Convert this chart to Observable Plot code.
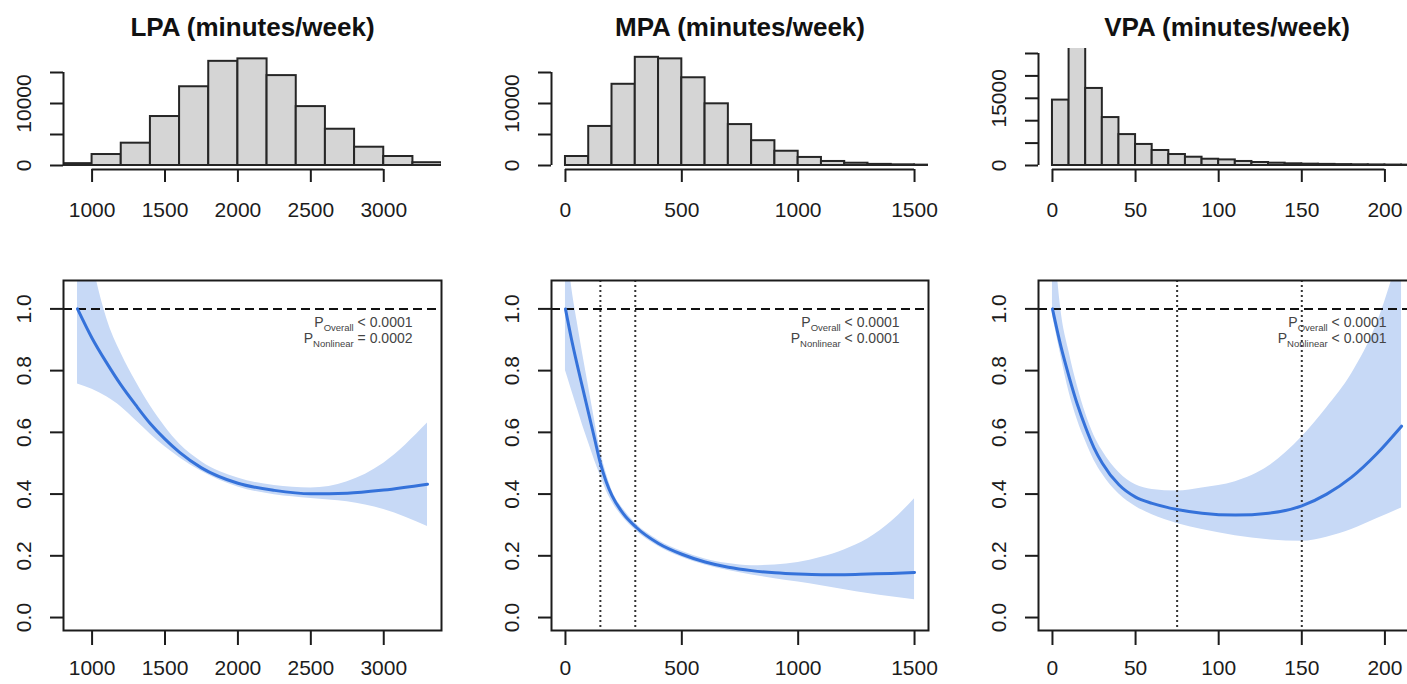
<!DOCTYPE html>
<html><head><meta charset="utf-8">
<script src="https://cdn.jsdelivr.net/npm/d3@7"></script>
<script src="https://cdn.jsdelivr.net/npm/@observablehq/plot@0.6"></script>
<style>
html,body{margin:0;padding:0;background:#fff;overflow:hidden;}
#root{position:relative;width:1407px;height:684px;overflow:hidden;background:#fff;}
#root svg{position:absolute;}
</style></head><body><div id="root"></div>
<script>
// ---------- data ----------
const titles = ["LPA (minutes/week)", "MPA (minutes/week)", "VPA (minutes/week)"];

// histograms (bin breaks and counts)
const lpaBreaks = [800,1000,1200,1400,1600,1800,2000,2200,2400,2600,2800,3000,3200,3400];
const lpaCounts = [300,1770,3600,7900,12700,16800,17200,14500,9500,5850,2950,1450,450];
const mpaBreaks = [0,100,200,300,400,500,600,700,800,900,1000,1100,1200,1300,1400,1500,1600];
const mpaCounts = [1450,6300,13100,17450,17200,14150,9950,6600,4000,2300,1300,650,370,180,110,60];
const vpaBreaks = [0,10,20,30,40,50,60,70,80,90,100,110,120,130,140,150,160,170,180,190,200,210,220];
const vpaCounts = [14600,32000,17200,10700,6900,4700,3350,2450,1850,1400,1250,900,670,520,380,300,250,200,160,130,100,80];

// histogram axis ticks and labels
const lpaCountTicks = [0,5000,10000,15000];
const lpaCountLabels = [0,10000];
const mpaCountTicks = [0,5000,10000,15000];
const mpaCountLabels = [0,10000];
const vpaCountTicks = [0,5000,10000,15000,20000,25000];
const vpaCountLabels = [0,15000];

// x ticks
const lpaXTicks = [1000,1500,2000,2500,3000];
const mpaXTicks = [0,500,1000,1500];
const vpaXTicks = [0,50,100,150,200];
const hrTicks = [0,0.2,0.4,0.6,0.8,1.0];

// spline curves: hazard ratio with 95% CI
const lpaX  = [900,1000,1100,1200,1300,1400,1500,1600,1750,2000,2250,2500,2750,3000,3300];
const lpaHR = [1.0,0.905,0.825,0.752,0.688,0.628,0.578,0.535,0.485,0.435,0.412,0.401,0.403,0.413,0.432];
const lpaLo = [0.757,0.74,0.715,0.682,0.638,0.594,0.553,0.518,0.474,0.423,0.398,0.386,0.375,0.35,0.295];
const lpaHi = [1.45,1.16,0.97,0.855,0.765,0.685,0.618,0.562,0.505,0.452,0.428,0.42,0.44,0.5,0.63];

const mpaX  = [0,25,50,75,100,125,150,175,200,250,300,400,500,600,700,800,900,1000,1100,1200,1300,1400,1500];
const mpaHR = [1.0,0.905,0.82,0.74,0.66,0.58,0.5,0.44,0.395,0.335,0.295,0.24,0.205,0.18,0.163,0.152,0.145,0.141,0.139,0.139,0.141,0.143,0.146];
const mpaLo = [0.8,0.74,0.68,0.62,0.565,0.51,0.46,0.412,0.375,0.322,0.284,0.23,0.195,0.17,0.152,0.138,0.126,0.115,0.103,0.09,0.078,0.067,0.058];
const mpaHi = [1.25,1.08,0.96,0.85,0.745,0.64,0.54,0.468,0.412,0.35,0.306,0.25,0.215,0.19,0.175,0.168,0.17,0.178,0.195,0.22,0.255,0.31,0.385];

const vpaX  = [0,5,10,15,20,25,30,40,50,60,75,90,110,130,150,165,180,195,210];
const vpaHR = [1.0,0.88,0.78,0.69,0.615,0.55,0.5,0.43,0.39,0.37,0.35,0.338,0.332,0.338,0.362,0.4,0.455,0.53,0.62];
const vpaLo = [0.98,0.85,0.73,0.64,0.57,0.51,0.465,0.4,0.36,0.333,0.305,0.285,0.265,0.252,0.247,0.26,0.285,0.32,0.355];
const vpaHi = [1.3,1.0,0.86,0.75,0.66,0.59,0.54,0.47,0.43,0.415,0.41,0.42,0.44,0.49,0.585,0.68,0.79,0.95,1.2];

// reference lines
const mpaRefs = [150,300];
const vpaRefs = [75,150];

// p-values
const pOverall   = ["< 0.0001","< 0.0001","< 0.0001"];
const pNonlinear = ["= 0.0002","< 0.0001","< 0.0001"];

// ---------- layout ----------
const FONT = '"Liberation Sans", Arial, Helvetica, sans-serif';
const INK = "#1c1c1c";
const panels = [
  {title: titles[0], left: 0,   width: 470, ml: 63, mr: 29, xdom: [804, 3396],
   breaks: lpaBreaks, counts: lpaCounts, cTicks: lpaCountTicks, cLabels: lpaCountLabels, hTop: 53, hdom: [-645, 18065],
   xTicks: lpaXTicks, cx: lpaX, hr: lpaHR, lo: lpaLo, hi: lpaHi, refs: [], p: 0},
  {title: titles[1], left: 470, width: 470, ml: 81, mr: 12, xdom: [-60, 1560],
   breaks: mpaBreaks, counts: mpaCounts, cTicks: mpaCountTicks, cLabels: mpaCountLabels, hTop: 53, hdom: [-645, 18065],
   xTicks: mpaXTicks, cx: mpaX, hr: mpaHR, lo: mpaLo, hi: mpaHi, refs: mpaRefs, p: 1},
  {title: titles[2], left: 940, width: 480, ml: 98, mr: 5, xdom: [-8.4, 218.4],
   breaks: vpaBreaks, counts: vpaCounts, cTicks: vpaCountTicks, cLabels: vpaCountLabels, hTop: 48, hdom: [-893, 26116],
   xTicks: vpaXTicks, cx: vpaX, hr: vpaHR, lo: vpaLo, hi: vpaHi, refs: vpaRefs, p: 2}
];

const root = document.getElementById("root");
const style = {fontFamily: FONT, fontSize: "21px", background: "transparent", overflow: "visible", color: INK};
const mid = {textAnchor: "middle", lineAnchor: "middle"};

function place(svg, left, top) {
  svg.style.left = left + "px";
  svg.style.top = top + "px";
  root.appendChild(svg);
}

function histPlot(p) {
  const H = 240;
  const bins = p.counts.map((n, i) => ({x1: p.breaks[i], x2: p.breaks[i + 1], y1: 0, y2: n}));
  const svg = Plot.plot({
    width: p.width, height: H,
    marginLeft: p.ml, marginRight: p.mr, marginTop: p.hTop, marginBottom: H - 169,
    style,
    x: {domain: p.xdom, axis: null},
    y: {domain: p.hdom, axis: null},
    marks: [
      Plot.rect(bins, {x1: "x1", x2: "x2", y1: "y1", y2: "y2", fill: "#d5d5d5", stroke: "#262626", strokeWidth: 2, clip: true}),
      Plot.ruleY([p.hdom[0]], {x1: p.xTicks[0], x2: p.xTicks[p.xTicks.length - 1], stroke: INK, strokeWidth: 2}),
      Plot.ruleX([p.xdom[0]], {y1: p.cTicks[0], y2: p.cTicks[p.cTicks.length - 1], stroke: INK, strokeWidth: 2}),
      Plot.axisX(p.xTicks, {tickSize: 13, fill: "none", label: null, stroke: INK, strokeWidth: 2}),
      Plot.axisY(p.cTicks, {tickSize: 13, fill: "none", label: null, stroke: INK, strokeWidth: 2}),
      Plot.text(p.xTicks, {x: d => d, text: d => String(d), frameAnchor: "bottom", dy: 41, fontSize: 21, fill: INK, ...mid}),
      Plot.text(p.cLabels, {y: d => d, text: d => String(d), frameAnchor: "left", dx: -39, rotate: -90, fontSize: 21, fill: INK, ...mid}),
      Plot.text([p.title], {text: d => d, frameAnchor: "top", dy: 27 - p.hTop, fontSize: 26, fontWeight: "bold", fill: "#111", ...mid})
    ]
  });
  place(svg, p.left, 0);
}

function curvePlot(p) {
  const TOP = 250, H = 434;
  const pts = p.cx.map((x, i) => ({x, hr: p.hr[i], lo: p.lo[i], hi: p.hi[i]}));
  const svg = Plot.plot({
    width: p.width, height: H,
    marginLeft: p.ml, marginRight: p.mr, marginTop: 30, marginBottom: 54,
    style,
    x: {domain: p.xdom, axis: null},
    y: {domain: [-0.042, 1.092], axis: null},
    marks: [
      Plot.areaY(pts, {x: "x", y1: "lo", y2: "hi", fill: "#c7d9f6", curve: "monotone-x", clip: true}),
      Plot.ruleX(p.refs, {stroke: "#333", strokeWidth: 2, strokeDasharray: "2,3"}),
      Plot.ruleY([1], {stroke: "#111", strokeWidth: 2, strokeDasharray: "9,5"}),
      Plot.line(pts, {x: "x", y: "hr", stroke: "#3572da", strokeWidth: 3, curve: "monotone-x", clip: true}),
      Plot.frame({stroke: INK, strokeWidth: 2}),
      Plot.axisX(p.xTicks, {tickSize: 15, fill: "none", label: null, stroke: INK, strokeWidth: 2}),
      Plot.axisY(hrTicks, {tickSize: 13, fill: "none", label: null, stroke: INK, strokeWidth: 2}),
      Plot.text(p.xTicks, {x: d => d, text: d => String(d), frameAnchor: "bottom", dy: 38, fontSize: 21, fill: INK, ...mid}),
      Plot.text(hrTicks, {y: d => d, text: d => d.toFixed(1), frameAnchor: "left", dx: -39, rotate: -90, fontSize: 21, fill: INK, ...mid}),
      Plot.text(["P|Overall|" + pOverall[p.p]], {text: d => d, frameAnchor: "top-right", textAnchor: "end", lineAnchor: "middle", dx: -29, dy: 42, fontSize: 14, fill: "#444"}),
      Plot.text(["P|Nonlinear|" + pNonlinear[p.p]], {text: d => d, frameAnchor: "top-right", textAnchor: "end", lineAnchor: "middle", dx: -29, dy: 58, fontSize: 14, fill: "#444"})
    ]
  });
  // subscripts for the p-value labels
  const ns = "http://www.w3.org/2000/svg";
  svg.querySelectorAll("text").forEach(t => {
    const s = t.textContent;
    if (s.startsWith("P|")) {
      const parts = s.split("|");
      t.textContent = "";
      const a = document.createElementNS(ns, "tspan"); a.textContent = "P";
      const b = document.createElementNS(ns, "tspan"); b.textContent = parts[1];
      b.setAttribute("font-size", "9.5"); b.setAttribute("dy", "4");
      const c = document.createElementNS(ns, "tspan"); c.textContent = " " + parts[2];
      c.setAttribute("dy", "-4");
      t.append(a, b, c);
    }
  });
  place(svg, p.left, TOP);
}

panels.forEach(p => { histPlot(p); curvePlot(p); });
</script>
</body></html>
